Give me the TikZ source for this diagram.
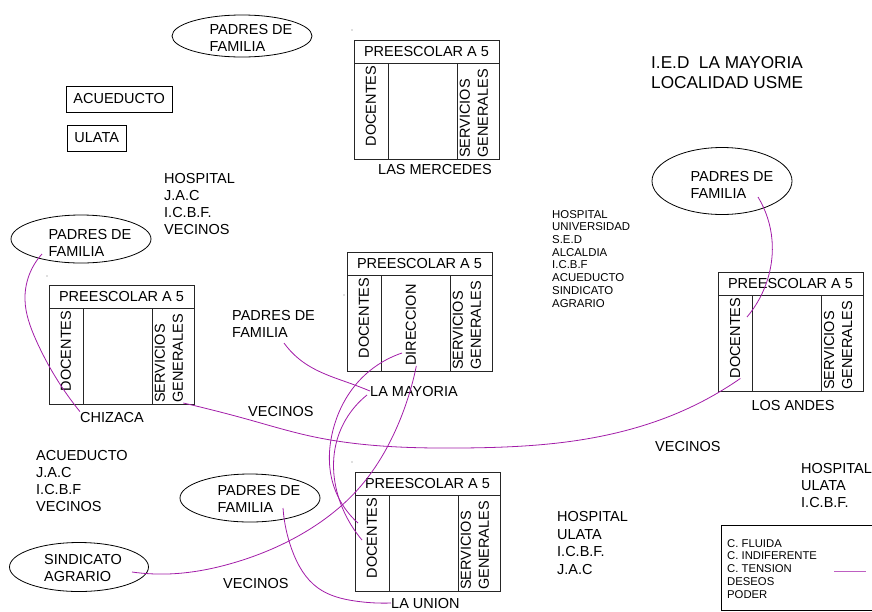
\documentclass[tikz,border=0pt]{standalone}
\usepackage{fontspec}
\setmainfont{Liberation Sans}
\usepackage{tikz}
\usetikzlibrary{shapes.geometric,hobby,positioning}
\definecolor{tension}{HTML}{A21CA8}
\tikzset{>=stealth}
\tikzset{%
    lbl/.style={font=\fontsize{14.5}{17}\selectfont, align=left, inner sep=0pt, anchor=north west},
    small/.style={font=\fontsize{11.4}{12.7}\selectfont, align=left, inner sep=0pt, anchor=north west},
    actor/.style={draw, ellipse, line width=0.8pt, inner sep=0pt},
    org/.style={draw, line width=0.9pt, font=\fontsize{14.5}{17}\selectfont, inner xsep=7pt, inner ysep=0pt, minimum height=26pt, anchor=west},
    wall/.style={draw=black!85, line width=0.9pt},
    conflict/.style={draw=tension, line width=0.8pt, use Hobby shortcut},
    speck/.style={fill=black!55},
    school/.pic={%
        \node[wall, minimum width=145pt, minimum height=119pt, anchor=north west, inner sep=0pt] (-box) at (0,0) {};
        \draw[wall] (0,23) -- (145,23) (34,23) -- (34,119) (103,23) -- (103,119);
        \node[lbl, anchor=center] (-head) at (72.5,11.5) {PREESCOLAR A 5};
        \node[lbl, anchor=center, rotate=90] (-doc) at (17,66) {DOCENTES};
        \node[lbl, font=\fontsize{14.5}{18}\selectfont, anchor=west, rotate=90] (-serv) at (120,118) {SERVICIOS\\GENERALES};
    }
}

\begin{document}
\begin{tikzpicture}[x=1pt, y=-1pt]
    \useasboundingbox (0,0) rectangle (872,611);

    % the five preschools
    \pic (mercedes) at (354,40) {school};
    \pic (chizaca) at (49,285) {school};
    \pic (mayoria) at (347,252) {school};
    \pic (andes) at (718,272) {school};
    \pic (union) at (355,472) {school};
    \node[lbl, anchor=center, rotate=90] (direccion) at (411,325) {DIRECCION};

    \node[lbl, anchor=center] (mercedesName) at (435,170) {LAS MERCEDES};
    \node[lbl, anchor=center] (chizacaName) at (112,417) {CHIZACA};
    \node[lbl, anchor=west] (mayoriaName) at (370,391) {LA MAYORIA};
    \node[lbl, anchor=center] (andesName) at (793,405) {LOS ANDES};
    \node[lbl, anchor=west] (unionName) at (391,603) {LA UNION};

    \node[lbl, font=\fontsize{17.2}{20}\selectfont] (title) at (651,56) {I.E.D\ \ LA MAYORIA\\LOCALIDAD USME};

    % parents and other actors
    \node[actor, minimum width=140pt, minimum height=42pt] (pfTop) at (242,36) {};
    \node[lbl, anchor=center] (pfTop-t) at ([shift={(9,2)}]pfTop.center) {PADRES DE\\FAMILIA};
    \node[actor, minimum width=140pt, minimum height=48pt] (pfL) at (81,239) {};
    \node[lbl, anchor=center] (pfL-t) at ([shift={(9,4)}]pfL.center) {PADRES DE\\FAMILIA};
    \node[actor, minimum width=140pt, minimum height=67pt] (pfR) at (722,181) {};
    \node[lbl, anchor=center] (pfR-t) at ([shift={(10,4)}]pfR.center) {PADRES DE\\FAMILIA};
    \node[actor, minimum width=140pt, minimum height=48pt] (pfB) at (250,498) {};
    \node[lbl, anchor=center] (pfB-t) at ([shift={(9,1)}]pfB.center) {PADRES DE\\FAMILIA};
    \node[actor, minimum width=139pt, minimum height=49pt] (sind) at (79,567) {};
    \node[lbl, anchor=center] (sind-t) at ([shift={(4,1)}]sind.center) {SINDICATO\\AGRARIO};

    \node[org] (acueducto) at (66,99) {ACUEDUCTO};
    \node[org] (ulata) at (67,138) {ULATA};

    \node[lbl] (padres) at (232,310) {PADRES DE\\FAMILIA};
    \node[lbl] (listTop) at (164,173) {HOSPITAL\\J.A.C\\I.C.B.F.\\VECINOS};
    \node[small] (listMid) at (552,210) {HOSPITAL\\UNIVERSIDAD\\S.E.D\\ALCALDIA\\I.C.B.F\\ACUEDUCTO\\SINDICATO\\AGRARIO};
    \node[lbl] (listLeft) at (36,450) {ACUEDUCTO\\J.A.C\\I.C.B.F\\VECINOS};
    \node[lbl, font=\fontsize{14.5}{17.8}\selectfont] (listLow) at (557,511) {HOSPITAL\\ULATA\\I.C.B.F.\\J.A.C};
    \node[lbl] (listRight) at (801,463) {HOSPITAL\\ULATA\\I.C.B.F.};
    \node[lbl] (vecinosA) at (248,406) {VECINOS};
    \node[lbl] (vecinosB) at (655,441) {VECINOS};
    \node[lbl] (vecinosC) at (223,578) {VECINOS};

    % legend
    \draw[line width=0.8pt] (721,525) rectangle (880,610);
    \node[small, font=\fontsize{11.3}{12.8}\selectfont] (legend) at (727,539) {C. FLUIDA\\C. INDIFERENTE\\C. TENSION\\DESEOS\\PODER};
    \draw[draw=tension!70, line width=1pt] (834,571) -- (866,571);

    % loose specks
    \fill[speck] (352,30) circle (0.7) (47,276) circle (0.7) (344,295) circle (0.7) (352,462) circle (0.7);

    % ends of the tension lines
    \coordinate (pfL-end) at (42,254);
    \coordinate (pfR-end) at (758,197);
    \coordinate (andes-in) at (747,317);
    \coordinate (padres-end) at (284,343);
    \coordinate (pfB-end) at (283,508);
    \coordinate (dirA) at (402,353);
    \coordinate (layB) at (367,395);
    \coordinate (sind-end) at (132,572);
    \coordinate (unionA) at (358,523);
    \coordinate (unionB) at (362,540);

    % tension lines
    \draw[conflict] (pfL-end) .. (25,300) .. (36,340) .. (chizacaName.north west);
    \draw[conflict] (chizaca-serv.south west) .. (250,420) .. (310,436) .. (460,448) .. (580,440) .. (680,412) .. (andes-doc.south west);
    \draw[conflict] (pfR-end) .. (772,240) .. (768,278) .. (andes-in);
    \draw[conflict] (padres-end) .. (303,362) .. (325,374) .. (352,384) .. (mayoriaName.west);
    \draw[conflict] (dirA) .. (358,382) .. (333,430) .. (332,480) .. (unionA);
    \draw[conflict] (layB) .. (350,413) .. (337,440) .. (342,507) .. (unionB);
    \draw[conflict] (direccion.south west) .. (397,427) .. (360,487) .. (300,535) .. (233,563) .. (167,574) .. (sind-end);
    \draw[conflict] (pfB-end) .. (292,550) .. (318,588) .. (355,601) .. (unionName.west);
\end{tikzpicture}
\end{document}
